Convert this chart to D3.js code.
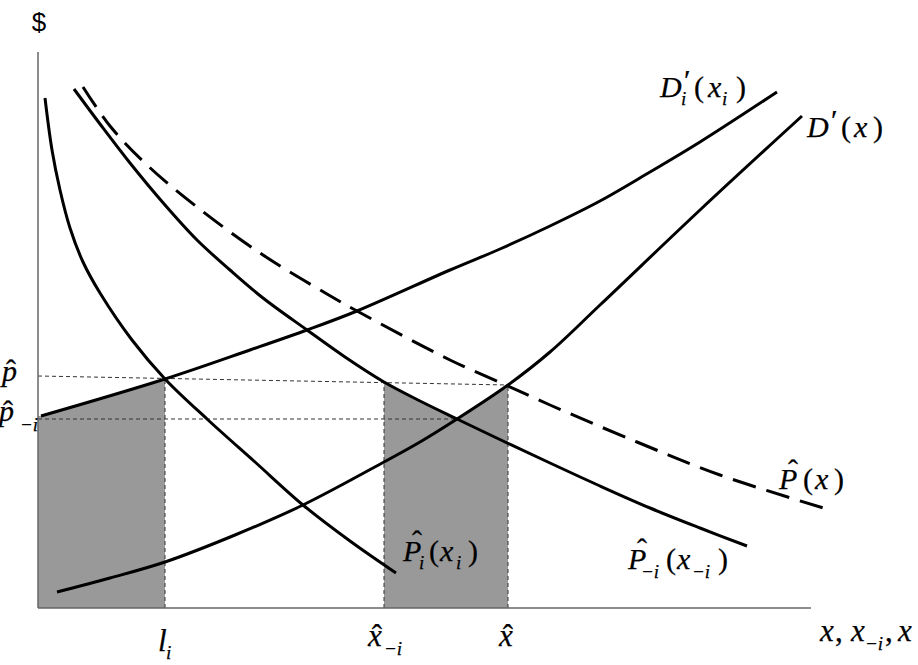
<!DOCTYPE html>
<html><head><meta charset="utf-8">
<script src="https://cdn.jsdelivr.net/npm/d3@7/dist/d3.min.js"></script>
<style>body{margin:0;background:#fff}</style>
</head><body>
<svg id="c" width="918" height="665"></svg>
<script>
// ---- data (abstract units) ----
const pHatI_x   = [0.7, 1.4, 2.2, 3.2, 4.5, 6.2, 9.4, 12.7, 16.9, 21.7, 26.5, 31.2, 35.8];
const pHatI_y   = [51.0, 45.8, 41.8, 38.0, 34.6, 31.5, 26.8, 22.9, 18.9, 14.6, 10.3, 6.7, 3.5];
const pHatMi_x  = [3.6, 6.2, 9.2, 12.7, 15.9, 19.2, 22.5, 26.9, 30.7, 34.6, 38.2, 41.9, 46.5, 51.2, 56.2, 61.2, 66.2, 70.9];
const pHatMi_y  = [51.9, 48.4, 44.5, 40.3, 36.8, 33.8, 31.0, 27.8, 25.1, 22.6, 20.7, 18.9, 16.7, 14.5, 12.2, 10.0, 8.0, 6.2];
const pHat_x    = [4.5, 7.2, 10.9, 15.9, 22.5, 28.9, 31.9, 41.2, 47.0, 51.2, 59.9, 68.2, 79.2];
const pHat_y    = [52.1, 48.2, 44.3, 40.1, 35.3, 31.4, 29.7, 24.8, 22.2, 20.3, 16.6, 13.3, 9.8];
const dI_x      = [0.3, 12.7, 21.2, 26.9, 31.9, 41.2, 46.2, 51.2, 56.2, 61.2, 66.2, 73.9];
const dI_y      = [19.2, 22.9, 25.8, 27.8, 29.7, 33.8, 35.9, 38.2, 40.7, 43.6, 46.6, 51.6];
const dAll_x    = [1.9, 7.2, 12.7, 19.7, 26.5, 34.6, 38.2, 41.9, 47.0, 51.2, 56.2, 66.2, 76.4];
const dAll_y    = [1.6, 3.0, 4.6, 7.3, 10.3, 14.6, 16.6, 18.9, 22.3, 25.6, 30.3, 39.8, 49.2];
// reference values
const markX     = [12.7, 34.6, 47.0];        // l_i, x̂_{-i}, x̂
const pHatLine  = [[0, 23.2], [47.0, 22.3]]; // p̂ level
const pHatMinus = 18.9;                      // p̂_{-i} level
const pHatMinusEnd = 41.9;

// ---- scales ----
const svg = d3.select('#c');
const x = d3.scaleLinear().domain([0, 77]).range([38, 808]);
const y = d3.scaleLinear().domain([0, 55.6]).range([608, 52]);
const zip = (a, b) => a.map((v, i) => [v, b[i]]);
const line = d3.line().x(d => x(d[0])).y(d => y(d[1])).curve(d3.curveCatmullRom.alpha(0.5));

const gFill = svg.append('g'), gRef = svg.append('g'), gAxis = svg.append('g'), gCurve = svg.append('g'), gText = svg.append('g');

function curve(data, dash) {
  const p = gCurve.append('path').attr('d', line(data)).attr('fill', 'none')
    .attr('stroke', '#000').attr('stroke-width', 3);
  if (dash) p.attr('stroke-dasharray', dash);
  return p.node();
}
const cPI  = curve(zip(pHatI_x, pHatI_y));
const cPMi = curve(zip(pHatMi_x, pHatMi_y));
const cP   = curve(zip(pHat_x, pHat_y), '24,11');
const cDI  = curve(zip(dI_x, dI_y));
const cD   = curve(zip(dAll_x, dAll_y));

function yAt(node, px) {
  const L = node.getTotalLength();
  let lo = 0, hi = L;
  for (let k = 0; k < 40; k++) {
    const m = (lo + hi) / 2;
    if (node.getPointAtLength(m).x < px) lo = m; else hi = m;
  }
  return node.getPointAtLength((lo + hi) / 2).y;
}

// shaded area 1: under D'_i from axis to l_i
{
  const x0 = x(0), x1 = x(markX[0]);
  const startX = x(dI_x[0]);
  const pts = [[x0, y(0)], [x0, y(dI_y[0])]];
  for (let px = startX; px <= x1; px += 1) pts.push([px, yAt(cDI, px)]);
  pts.push([x1, yAt(cDI, x1)], [x1, y(0)]);
  gFill.append('polygon').attr('points', pts.map(p => p.join(',')).join(' ')).attr('fill', '#999');
}
// shaded area 2: under upper envelope of P̂_{-i} and D' between x̂_{-i} and x̂
{
  const x0 = x(markX[1]), x1 = x(markX[2]);
  const pts = [[x0, y(0)]];
  for (let px = x0; px <= x1; px += 1) pts.push([px, Math.min(yAt(cPMi, px), yAt(cD, px))]);
  pts.push([x1, Math.min(yAt(cPMi, x1), yAt(cD, x1))], [x1, y(0)]);
  gFill.append('polygon').attr('points', pts.map(p => p.join(',')).join(' ')).attr('fill', '#999');
}

// dashed reference lines
function ref(x1, y1, x2, y2) {
  gRef.append('line').attr('x1', x1).attr('y1', y1).attr('x2', x2).attr('y2', y2)
    .attr('stroke', '#333').attr('stroke-width', 1).attr('stroke-dasharray', '4,3');
}
ref(x(pHatLine[0][0]), y(pHatLine[0][1]), x(pHatLine[1][0]), y(pHatLine[1][1]));
ref(x(0), y(pHatMinus), x(pHatMinusEnd), y(pHatMinus));
ref(x(markX[0]), y(0), x(markX[0]), yAt(cDI, x(markX[0])));
const pHatAt = v => pHatLine[0][1] + (pHatLine[1][1] - pHatLine[0][1]) * (v - pHatLine[0][0]) / (pHatLine[1][0] - pHatLine[0][0]);
ref(x(markX[1]), y(0), x(markX[1]), y(pHatAt(markX[1])));
ref(x(markX[2]), y(0), x(markX[2]), y(pHatAt(markX[2])));

// axes
gAxis.append('line').attr('x1', x(0)).attr('y1', y(0)).attr('x2', x(0)).attr('y2', y(55.6))
  .attr('stroke', '#666').attr('stroke-width', 1.5);
gAxis.append('line').attr('x1', x(0)).attr('y1', y(0)).attr('x2', x(77.3)).attr('y2', y(0))
  .attr('stroke', '#666').attr('stroke-width', 1.5);

// text
function t(s, px, py, size, italic, anchor) {
  gText.append('text').attr('x', px).attr('y', py)
    .attr('font-family', 'Liberation Serif')
    .attr('font-size', size).attr('font-style', italic ? 'italic' : 'normal')
    .attr('text-anchor', anchor || 'start').attr('fill', '#000')
    .attr('stroke', '#000').attr('stroke-width', 0.25).text(s);
}
gText.append('text').attr('x', 39).attr('y', 31).attr('font-family', 'Liberation Sans')
  .attr('font-size', 26).attr('text-anchor', 'middle').text('$');

const F = 30, S = 19;
// D'_i(x_i)
t('D', 660, 97, F, true); t('′', 684, 90, F, false); t('i', 681, 105, S, true);
t('(', 694, 97, F, false); t('x', 708, 97, F, true); t('i', 722, 105, S, true); t(')', 736, 97, F, false);
// D'(x)
t('D', 807, 137, F, true); t('′', 831, 130, F, false);
t('(', 841, 137, F, false); t('x', 854, 137, F, true); t(')', 873, 137, F, false);
// P̂(x)
t('P', 779, 489, F, true); t('ˆ', 793, 480, F, false, 'middle');
t('(', 803, 489, F, false); t('x', 815, 489, F, true); t(')', 834, 489, F, false);
// P̂_{-i}(x_{-i})
t('P', 628, 569, F, true); t('ˆ', 642, 559, F, false, 'middle'); t('−i', 641, 578, S, true);
t('(', 666, 569, F, false); t('x', 677, 569, F, true); t('−i', 692, 578, S, true); t(')', 718, 569, F, false);
// P̂_i(x_i)
t('P', 403, 561, F, true); t('ˆ', 417, 551, F, false, 'middle'); t('i', 419, 569, S, true);
t('(', 429, 561, F, false); t('x', 440, 561, F, true); t('i', 456, 569, S, true); t(')', 468, 561, F, false);
// p̂, p̂_{-i}
t('p', 2, 381, F, true); t('ˆ', 11, 380, F, false, 'middle');
t('p', -1, 421, F, true); t('ˆ', 8, 421, F, false, 'middle'); t('−i', 20, 431, S, true);
// axis labels
t('l', 158, 651, 31, true); t('i', 166, 659, S, true);
t('x', 368, 646, 31, true); t('ˆ', 377, 646, 31, false, 'middle'); t('−i', 384, 655, S, true);
t('x', 499, 646, 31, true); t('ˆ', 508, 646, 31, false, 'middle');
t('x', 820, 641, 31, true); t(',', 835, 641, 31, false);
t('x', 851, 641, 31, true); t('−i', 865, 650, S, true);
t(',', 885, 641, 31, false); t('x', 898, 641, 31, true);
</script>
</body></html>
